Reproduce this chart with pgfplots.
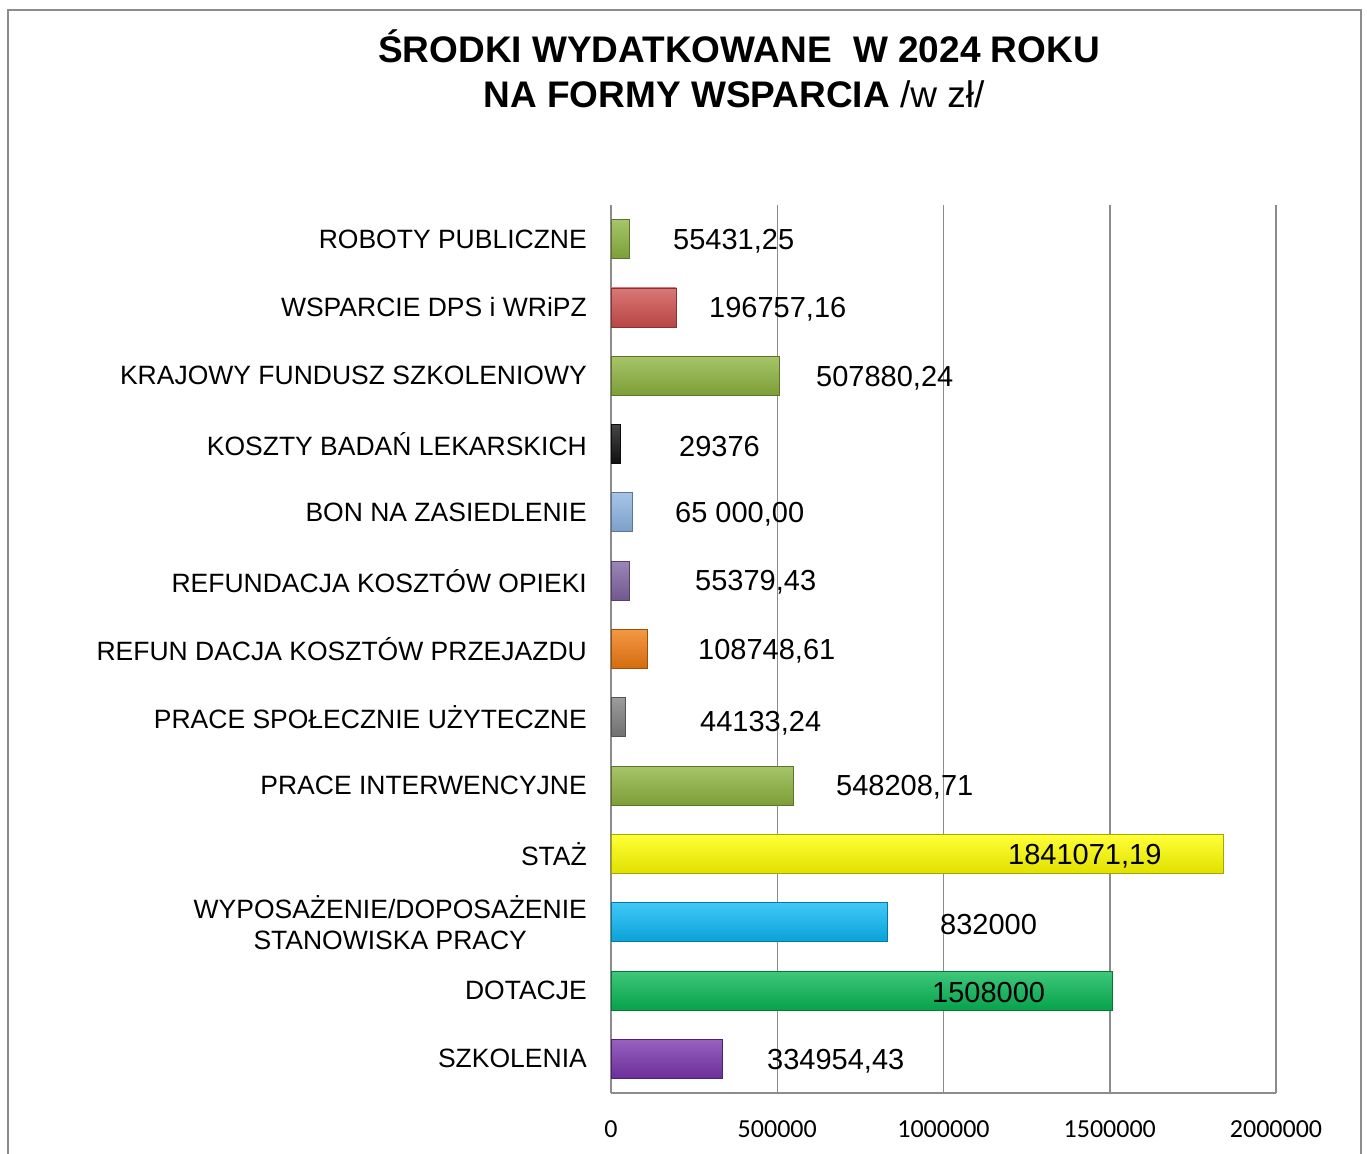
\documentclass[border=0pt]{standalone}
\usepackage{pgfplots}
\pgfplotsset{compat=1.18}
\usepackage{fontspec}
\setmainfont{Liberation Sans}
\newfontfamily\carlito{Carlito}
\definecolor{ogreen}{HTML}{8DB43F}
\definecolor{cred}{HTML}{D0504E}
\definecolor{cblack}{HTML}{111111}
\definecolor{lblue}{HTML}{8DB4E3}
\definecolor{purp}{HTML}{8064A2}
\definecolor{orng}{HTML}{F07B10}
\definecolor{cgray}{HTML}{7F7F7F}
\definecolor{yell}{HTML}{FFFF00}
\definecolor{cyanb}{HTML}{0BB8F5}
\definecolor{grn}{HTML}{08B855}
\definecolor{purp2}{HTML}{7A35AE}
\definecolor{gridgray}{HTML}{8C8C8C}
\begin{document}
\begin{tikzpicture}[x=1pt,y=1pt]
\useasboundingbox (0,0) rectangle (1367,1153);
\draw[gridgray, line width=2pt] (8,-5) -- (8,1143) -- (1361,1143) -- (1361,-5);
\node[anchor=base, font=\bfseries\fontsize{37}{45}\selectfont] at (739,1090) {ŚRODKI WYDATKOWANE\hspace{0.3em} W 2024 ROKU};
\node[anchor=base, font=\fontsize{37}{45}\selectfont] at (734,1045) {\textbf{NA FORMY WSPARCIA} /w zł/};
\begin{axis}[
  at={(611pt,60pt)}, anchor=south west,
  scale only axis, width=665pt, height=888pt,
  xmin=0, xmax=2000000, ymin=-0.5, ymax=12.5,
  axis x line*=bottom, axis y line*=left,
  axis line style={gridgray, line width=1.5pt},
  xmajorgrids, grid style={gridgray, line width=1.5pt},
  major tick length=0pt,
  xtick={0,500000,1000000,1500000,2000000},
  xticklabels={0,500000,1000000,1500000,2000000},
  xticklabel style={font=\carlito\fontsize{26}{30}\selectfont, anchor=center, yshift=-36pt},
  ytick={0,...,12},
  yticklabels={SZKOLENIA,DOTACJE,{WYPOSAŻENIE/DOPOSAŻENIE\\STANOWISKA PRACY},STAŻ,PRACE INTERWENCYJNE,PRACE SPOŁECZNIE UŻYTECZNE,REFUN DACJA KOSZTÓW PRZEJAZDU,REFUNDACJA KOSZTÓW OPIEKI,BON NA ZASIEDLENIE,KOSZTY BADAŃ LEKARSKICH,KRAJOWY FUNDUSZ SZKOLENIOWY,WSPARCIE DPS i WRiPZ,ROBOTY PUBLICZNE},
  yticklabel style={font=\fontsize{26.5}{31}\selectfont, align=center, anchor=east, inner sep=0pt, xshift=-24pt},
  mybar/.style={xbar, bar width=39pt, bar shift=0pt, top color=#1!78!white, middle color=#1, bottom color=#1!88!black, draw=#1!65!black, line width=0.8pt},
]
\addplot[mybar=purp2] coordinates {(334954.43,0)};
\addplot[mybar=grn] coordinates {(1508000,1)};
\addplot[mybar=cyanb] coordinates {(832000,2)};
\addplot[mybar=yell] coordinates {(1841071.19,3)};
\addplot[mybar=ogreen] coordinates {(548208.71,4)};
\addplot[mybar=cgray] coordinates {(44133.24,5)};
\addplot[mybar=orng] coordinates {(108748.61,6)};
\addplot[mybar=purp] coordinates {(55379.43,7)};
\addplot[mybar=lblue] coordinates {(65000,8)};
\addplot[mybar=cblack] coordinates {(29376,9)};
\addplot[mybar=ogreen] coordinates {(507880.24,10)};
\addplot[mybar=cred] coordinates {(196757.16,11)};
\addplot[mybar=ogreen] coordinates {(55431.25,12)};
\addplot[only marks, mark=none, nodes near coords, point meta=explicit symbolic,
  every node near coord/.style={anchor=west, inner sep=0pt, text=black, yshift=-2pt, font=\fontsize{29}{33}\selectfont}]
  table[x=x, y=y, meta=l, col sep=semicolon, row sep=\\] {
x;y;l\\
186466;12;55431,25\\
294737;11;196757,16\\
616541;10;507880,24\\
204511;9;29376\\
192481;8;65 000,00\\
252632;7;55379,43\\
261654;6;108748,61\\
267669;4.94;44133,24\\
676692;4;548208,71\\
1193985;3;1841071,19\\
989474;2;832000\\
965414;1;1508000\\
469173;0;334954,43\\
};
\end{axis}
\end{tikzpicture}
\end{document}
